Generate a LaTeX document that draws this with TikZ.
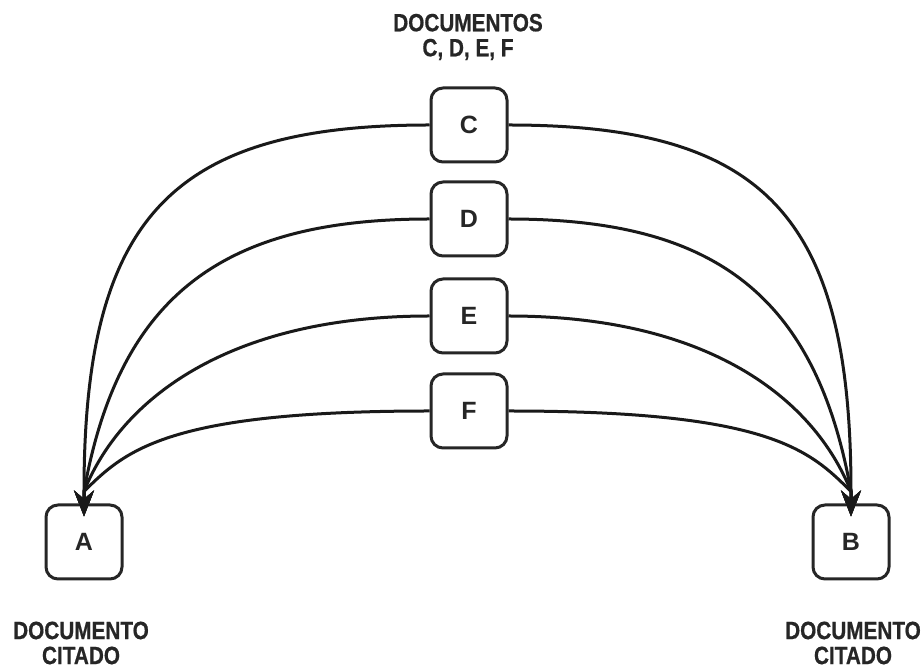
\documentclass[tikz,border=0pt]{standalone}
\usepackage{fontspec}
\setmainfont{Liberation Sans}
\newfontfamily\condfont[FakeStretch=0.83,FakeBold=0.6]{Liberation Sans Bold}
\usetikzlibrary{arrows.meta}
\begin{document}
\begin{tikzpicture}[x=0.5pt,y=-0.5pt,
  docbox/.style={draw=black!85,line width=1.5pt,rounded corners=6pt,minimum width=38pt,minimum height=37pt,inner sep=0pt,font=\fontsize{12.5}{12.5}\selectfont\bfseries,text=black!85},
  lbl/.style={align=center,font=\condfont\fontsize{12.5}{12.5}\selectfont,text=black!85,inner sep=0pt},
  link/.style={draw=black!90,line width=1.5pt,-{Stealth[length=13pt,width=10pt]},shorten >=-6.5pt}]
\useasboundingbox (0,0) rectangle (923,667);
\node[docbox] (C) at (469,125) {C};
\node[docbox] (D) at (469,219) {D};
\node[docbox] (E) at (469,316) {E};
\node[docbox] (F) at (469,411) {F};
\node[docbox] (A) at (84,542) {A};
\node[docbox] (B) at (851,542) {B};
\coordinate (Aj) at ([yshift=6pt]A.north);
\coordinate (Bj) at ([yshift=6pt]B.north);
\node[lbl] (top) at (468,37) {DOCUMENTOS\\C, D, E, F};
\node[lbl] (la) at (81,643) {DOCUMENTO\\CITADO};
\node[lbl] (lb) at (853,643) {DOCUMENTO\\CITADO};
\draw[link] (C.west) .. controls +(-256,0) and +(0,-276) .. (Aj) -- (A.north);
\draw[link] (D.west) .. controls +(-200,0) and +(36,-202) .. (Aj) -- (A.north);
\draw[link] (E.west) .. controls +(-200,0) and +(37,-93) .. (Aj) -- (A.north);
\draw[link] (F.west) .. controls +(-260,0) and +(42,-42) .. (Aj) -- (A.north);
\draw[link] (C.east) .. controls +(256,0) and +(0,-276) .. (Bj) -- (B.north);
\draw[link] (D.east) .. controls +(200,0) and +(-36,-202) .. (Bj) -- (B.north);
\draw[link] (E.east) .. controls +(200,0) and +(-37,-93) .. (Bj) -- (B.north);
\draw[link] (F.east) .. controls +(260,0) and +(-42,-42) .. (Bj) -- (B.north);
\end{tikzpicture}
\end{document}
